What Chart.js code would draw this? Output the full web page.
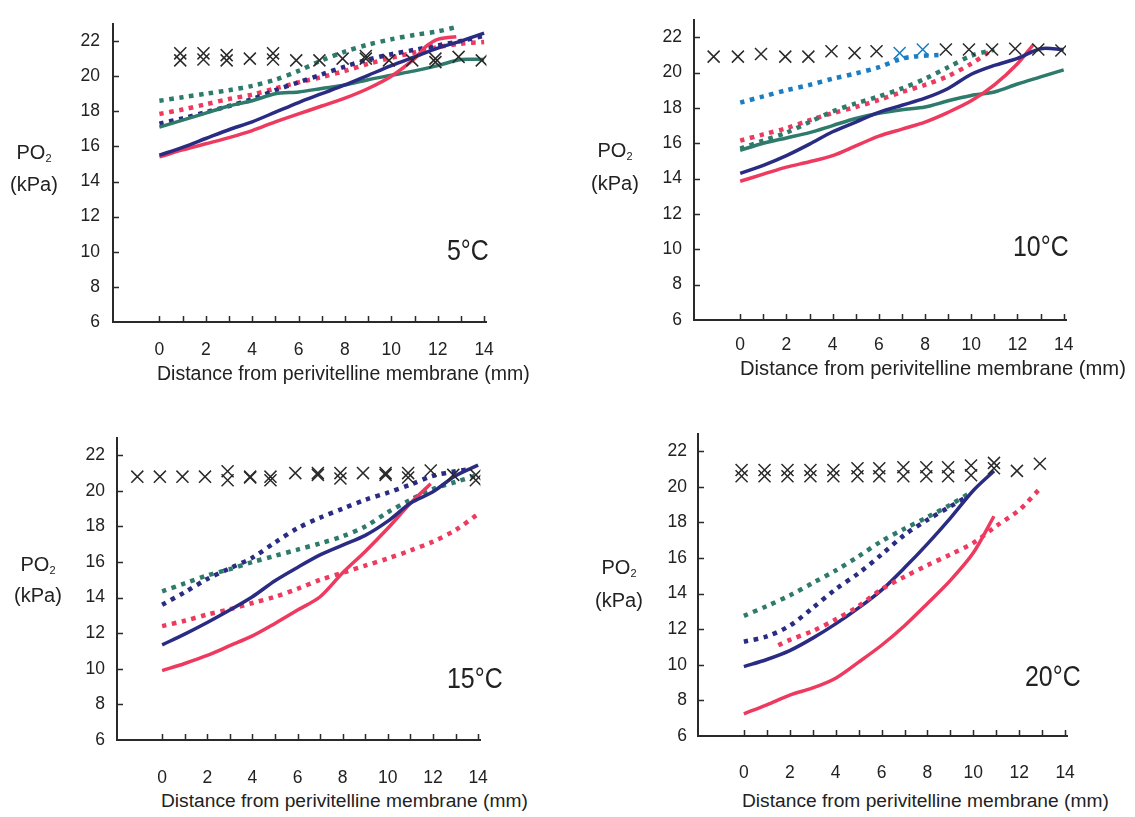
<!DOCTYPE html>
<html>
<head>
<meta charset="utf-8">
<title>PO2 across the egg</title>
<script src="https://cdn.jsdelivr.net/npm/chart.js@4.4.0/dist/chart.umd.min.js"></script>
<style>
  body { margin: 0; background: #fff; font-family: 'Liberation Sans', Arial, sans-serif; color: #222; }
  #page { position: relative; width: 1135px; height: 817px; overflow: hidden; }
  canvas { position: absolute; }
  .lbl { position: absolute; white-space: nowrap; line-height: 1; }
  .po2 { font-size: 20px; line-height: 29px; text-align: center; width: 60px; }
  .po2 .sub { font-size: 11px; position: relative; top: 3px; }
  .temp { font-size: 30px; transform: scaleX(0.83); transform-origin: left center; }
  .xtitle { font-size: 19.5px; }
</style>
</head>
<body>
<div id="page">
  <canvas id="chart5"></canvas>
  <canvas id="chart10"></canvas>
  <canvas id="chart15"></canvas>
  <canvas id="chart20"></canvas>

  <div class="lbl po2" style="left:4px; top:138px;">PO<span class="sub">2</span><br>(kPa)</div>
  <div class="lbl po2" style="left:585px; top:135px; line-height:30px;">PO<span class="sub">2</span><br>(kPa)</div>
  <div class="lbl po2" style="left:8px; top:550px; line-height:28px;">PO<span class="sub">2</span><br>(kPa)</div>
  <div class="lbl po2" style="left:589px; top:552px; line-height:30px;">PO<span class="sub">2</span><br>(kPa)</div>

  <div class="lbl temp" style="left:447px; top:235px;">5°C</div>
  <div class="lbl temp" style="left:1013px; top:231px;">10°C</div>
  <div class="lbl temp" style="left:447px; top:663px;">15°C</div>
  <div class="lbl temp" style="left:1025px; top:661px;">20°C</div>

  <div class="lbl xtitle" style="left:157px; top:364px;">Distance from perivitelline membrane (mm)</div>
  <div class="lbl xtitle" style="left:740px; top:358px; font-size:20.2px;">Distance from perivitelline membrane (mm)</div>
  <div class="lbl xtitle" style="left:161px; top:791px; font-size:19.2px;">Distance from perivitelline membrane (mm)</div>
  <div class="lbl xtitle" style="left:742px; top:791px; font-size:19.2px;">Distance from perivitelline membrane (mm)</div>
</div>

<script>
'use strict';

// AXIS LABELS
let xLabelled = [0, 2, 4, 6, 8, 10, 12, 14];
let yLabelled = [6, 8, 10, 12, 14, 16, 18, 20, 22];

// COLOURS
let red = '#ee3a5f';
let navy = '#2a2c84';
let teal = '#2e7a6b';
let sky = '#1b7ec4';
let ink = '#2a2a2a';

// DATA: [distance (mm), PO2 (kPa)]

// 5 C
let redSolid5 = [[0, 15.4], [1, 15.8], [2, 16.15], [3, 16.5], [4, 16.9], [5, 17.4], [6, 17.85], [7, 18.3], [8, 18.75], [9, 19.3], [10, 20.0], [11, 21.0], [11.5, 21.7], [12, 22.1], [12.8, 22.25]];
let navySolid5 = [[0, 15.5], [1, 15.95], [2, 16.45], [3, 16.95], [4, 17.4], [5, 17.95], [6, 18.5], [7, 19.0], [8, 19.5], [9, 20.05], [10, 20.6], [11, 21.1], [12, 21.6], [13, 22.0], [14, 22.45]];
let tealSolid5 = [[0, 17.1], [1, 17.5], [2, 17.9], [3, 18.3], [4, 18.6], [5, 19.0], [6, 19.1], [7, 19.3], [8, 19.5], [9, 19.8], [10, 20.05], [11, 20.3], [12, 20.6], [13, 20.95], [14, 20.95]];
let redDot5 = [[0, 17.85], [1, 18.1], [2, 18.4], [3, 18.7], [4, 18.95], [5, 19.3], [6, 19.65], [7, 19.95], [8, 20.3], [9, 20.7], [10, 21.05], [11, 21.35], [12, 21.65], [13, 21.85], [14, 21.95]];
let navyDot5 = [[0, 17.3], [1, 17.6], [2, 17.95], [3, 18.3], [4, 18.7], [5, 19.2], [6, 19.65], [7, 20.1], [8, 20.55], [9, 20.95], [10, 21.25], [11, 21.5], [12, 21.75], [13, 22.0], [14, 22.3]];
let tealDot5 = [[0, 18.6], [1, 18.8], [2, 19.0], [3, 19.2], [4, 19.45], [5, 19.8], [6, 20.3], [7, 20.9], [8, 21.4], [9, 21.8], [10, 22.1], [11, 22.35], [12, 22.55], [12.8, 22.8]];
let airA5 = [[0.9, 21.3], [1.9, 21.3], [2.9, 21.2], [3.9, 21.0], [4.9, 21.3], [5.9, 20.9], [6.9, 20.9], [7.9, 21.0], [8.9, 21.0], [9.9, 20.9], [10.9, 20.9], [11.9, 21.0], [12.9, 21.1], [13.9, 20.9]];
let airB5 = [[0.9, 20.9], [1.9, 20.95], [2.9, 20.9], [4.9, 20.95], [8.9, 21.15], [11.9, 20.8]];

// 10 C
let redSolid10 = [[0, 13.85], [1, 14.25], [2, 14.65], [3, 14.95], [4, 15.3], [5, 15.85], [6, 16.4], [7, 16.8], [8, 17.2], [9, 17.75], [10, 18.4], [11, 19.3], [12, 20.5], [12.7, 21.6]];
let navySolid10 = [[0, 14.3], [1, 14.75], [2, 15.3], [3, 15.95], [4, 16.65], [5, 17.2], [6, 17.75], [7, 18.15], [8, 18.55], [9, 19.1], [10, 19.9], [11, 20.4], [12, 20.8], [13, 21.35], [14, 21.3]];
let tealSolid10 = [[0, 15.6], [1, 16.0], [2, 16.3], [3, 16.6], [4, 17.0], [5, 17.4], [6, 17.7], [7, 17.9], [8, 18.05], [9, 18.4], [10, 18.7], [11, 18.9], [12, 19.35], [13, 19.75], [14, 20.15]];
let redDot10 = [[0, 16.15], [1, 16.5], [2, 16.85], [3, 17.3], [4, 17.7], [5, 18.05], [6, 18.45], [7, 18.9], [8, 19.3], [9, 19.8], [10, 20.5], [10.8, 21.2]];
let tealDot10 = [[0, 15.7], [1, 16.15], [2, 16.6], [3, 17.2], [4, 17.8], [5, 18.25], [6, 18.65], [7, 19.1], [8, 19.65], [9, 20.3], [10, 20.95], [11, 21.3]];
let skyDot10 = [[0, 18.3], [1, 18.65], [2, 19.0], [3, 19.3], [4, 19.65], [5, 19.95], [6, 20.3], [6.9, 20.75], [7.5, 20.9], [8.6, 21.0]];
let air10 = [[-1.15, 20.9], [-0.1, 20.9], [0.9, 21.05], [1.95, 20.9], [2.95, 20.9], [3.95, 21.2], [4.95, 21.1], [5.9, 21.2], [8.9, 21.3], [9.9, 21.3], [10.9, 21.3], [11.9, 21.35], [12.9, 21.3], [13.9, 21.25]];
let airSky10 = [[6.9, 21.1], [7.9, 21.3]];

// 15 C
let redSolid15 = [[0, 9.9], [1, 10.3], [2, 10.75], [3, 11.3], [4, 11.85], [5, 12.55], [6, 13.3], [7, 14.05], [8, 15.4], [9, 16.6], [10, 17.9], [11, 19.3], [11.9, 20.4]];
let navySolid15 = [[0, 11.35], [1, 11.95], [2, 12.6], [3, 13.3], [4, 14.05], [5, 14.95], [6, 15.7], [7, 16.4], [8, 16.95], [9, 17.5], [10, 18.3], [11, 19.3], [12, 19.95], [13, 20.85], [14, 21.45]];
let redDot15 = [[0, 12.4], [1, 12.7], [2, 13.05], [3, 13.35], [4, 13.7], [5, 14.05], [6, 14.5], [7, 15.0], [8, 15.4], [9, 15.8], [10, 16.2], [11, 16.65], [12, 17.15], [13, 17.8], [14, 18.7]];
let navyDot15 = [[0, 13.6], [1, 14.3], [2, 15.05], [3, 15.65], [4, 16.25], [5, 17.1], [6, 17.9], [7, 18.5], [8, 19.0], [9, 19.5], [10, 19.9], [11, 20.35], [12, 20.85], [13, 21.1], [13.5, 21.2]];
let tealDot15 = [[0, 14.35], [1, 14.8], [2, 15.25], [3, 15.6], [4, 16.0], [5, 16.35], [6, 16.7], [7, 17.05], [8, 17.45], [9, 18.0], [10, 18.8], [11, 19.5], [12, 20.1], [13, 20.5], [14, 20.9]];
let airA15 = [[-1.1, 20.8], [-0.1, 20.8], [0.9, 20.8], [1.9, 20.8], [2.9, 21.1], [3.9, 20.8], [4.8, 20.8], [5.9, 21.0], [6.9, 21.0], [7.9, 21.0], [8.9, 21.0], [9.9, 21.0], [10.9, 21.0], [11.9, 21.15], [12.9, 20.9], [13.9, 20.9]];
let airB15 = [[2.9, 20.6], [3.9, 20.75], [4.8, 20.6], [6.9, 20.9], [7.9, 20.7], [9.9, 20.9], [10.9, 20.75], [13.9, 20.6]];

// 20 C
let redSolid20 = [[0, 7.25], [1, 7.75], [2, 8.3], [3, 8.7], [4, 9.25], [5, 10.15], [6, 11.1], [7, 12.2], [8, 13.45], [9, 14.75], [10, 16.3], [10.9, 18.35]];
let navySolid20 = [[0, 9.9], [1, 10.3], [2, 10.8], [3, 11.5], [4, 12.3], [5, 13.2], [6, 14.2], [7, 15.45], [8, 16.8], [9, 18.25], [10, 19.8], [10.9, 20.9]];
let redDot20 = [[1.5, 11.1], [2, 11.4], [3, 11.9], [4, 12.55], [5, 13.3], [6, 14.25], [7, 14.95], [8, 15.6], [9, 16.2], [10, 16.85], [11, 17.8], [12, 18.7], [12.9, 19.9]];
let navyDot20 = [[0, 11.3], [1, 11.6], [2, 12.2], [3, 13.2], [4, 14.25], [5, 15.15], [6, 16.2], [7, 17.3], [8, 18.15], [9, 18.9], [9.6, 19.35]];
let tealDot20 = [[0, 12.75], [1, 13.3], [2, 13.9], [3, 14.6], [4, 15.3], [5, 16.1], [6, 16.95], [7, 17.65], [8, 18.3], [9, 19.0], [9.9, 19.7]];
let airA20 = [[-0.1, 20.95], [0.9, 20.95], [1.9, 20.95], [2.9, 20.95], [3.9, 20.95], [4.95, 21.05], [5.9, 21.05], [6.95, 21.1], [7.95, 21.1], [8.9, 21.1], [9.9, 21.2], [10.9, 21.35], [11.9, 20.9], [12.9, 21.3]];
let airB20 = [[-0.1, 20.6], [0.9, 20.6], [1.9, 20.6], [2.9, 20.6], [3.9, 20.6], [4.95, 20.6], [5.9, 20.6], [6.95, 20.6], [7.95, 20.6], [8.9, 20.6], [9.9, 20.65], [10.9, 21.05]];

// DATASET HELPERS
function toPoints(pairs) {
  return pairs.map(p => ({ x: p[0], y: p[1] }));
}

function solid(pairs, color) {
  return {
    data: toPoints(pairs),
    borderColor: color,
    borderWidth: 3.5,
    pointRadius: 0,
    tension: 0.3,
  };
}

function dotted(pairs, color) {
  return {
    data: toPoints(pairs),
    borderColor: color,
    borderWidth: 4.5,
    borderDash: [4.5, 5.5],
    borderCapStyle: 'butt',
    pointRadius: 0,
    tension: 0.3,
  };
}

function crosses(pairs, color) {
  return {
    data: toPoints(pairs),
    showLine: false,
    pointStyle: 'crossRot',
    pointRadius: 8.5,
    pointBorderColor: color,
    pointBorderWidth: 1.5,
  };
}

// small tick marks that point into the plot area
let innerTicks = {
  id: 'innerTicks',
  beforeDatasetsDraw(chart) {
    let ctx = chart.ctx;
    let area = chart.chartArea;
    let xScale = chart.scales.x;
    let yScale = chart.scales.y;
    ctx.save();
    ctx.strokeStyle = ink;
    ctx.lineWidth = 1.5;
    ctx.beginPath();
    xScale.ticks.forEach(t => {
      if (t.value < 0) return;
      let px = Math.round(xScale.getPixelForValue(t.value)) + 0.5;
      ctx.moveTo(px, area.bottom);
      ctx.lineTo(px, area.bottom - 6);
    });
    yScale.ticks.forEach(t => {
      if (t.value <= yScale.min) return;
      let py = Math.round(yScale.getPixelForValue(t.value)) + 0.5;
      ctx.moveTo(area.left, py);
      ctx.lineTo(area.left + 6, py);
    });
    ctx.stroke();
    ctx.restore();
  },
};

// PANELS: plot box on the page [left, top, right, bottom]
let panels = [
  {
    id: 'chart5', box: [113, 15, 487, 322], xGap: 18, yGap: 13,
    datasets: [crosses(airA5, ink), crosses(airB5, ink), solid(navySolid5, navy), solid(redSolid5, red), solid(tealSolid5, teal),
      dotted(tealDot5, teal), dotted(navyDot5, navy), dotted(redDot5, red)],
  },
  {
    id: 'chart10', box: [694, 12, 1066, 320], xGap: 15, yGap: 12,
    datasets: [crosses(air10, ink), crosses(airSky10, sky), solid(navySolid10, navy), solid(redSolid10, red), solid(tealSolid10, teal),
      dotted(skyDot10, sky), dotted(tealDot10, teal), dotted(redDot10, red)],
  },
  {
    id: 'chart15', box: [117, 430, 491, 740], xGap: 28, yGap: 12,
    datasets: [crosses(airA15, ink), crosses(airB15, ink), solid(navySolid15, navy), solid(redSolid15, red),
      dotted(navyDot15, navy), dotted(tealDot15, teal), dotted(redDot15, red)],
  },
  {
    id: 'chart20', box: [698, 427, 1077, 736], xGap: 27, yGap: 11,
    datasets: [crosses(airA20, ink), crosses(airB20, ink), dotted(redDot20, red), solid(navySolid20, navy), solid(redSolid20, red),
      dotted(navyDot20, navy), dotted(tealDot20, teal)],
  },
];

let Y_BAND = 60;
let X_BAND = 50;
let PAD_TOP = 15;
let PAD_RIGHT = 25;
let tickFont = { family: "'Liberation Sans', Arial, sans-serif", size: 17.5 };

function renderPanel(panel) {
  let canvasElem = document.getElementById(panel.id);
  let [left, top, right, bottom] = panel.box;
  canvasElem.width = right - left + Y_BAND + PAD_RIGHT;
  canvasElem.height = bottom - top + PAD_TOP + X_BAND;
  canvasElem.style.left = (left - Y_BAND) + 'px';
  canvasElem.style.top = (top - PAD_TOP) + 'px';

  new Chart(canvasElem.getContext('2d'), {
    type: 'line',
    data: { datasets: panel.datasets },
    options: {
      responsive: false,
      animation: false,
      events: [],
      layout: { padding: { left: 0, top: PAD_TOP, right: PAD_RIGHT, bottom: 0 } },
      plugins: { legend: { display: false }, tooltip: { enabled: false } },
      scales: {
        x: {
          type: 'linear',
          min: -2,
          max: 14.1,
          afterFit: s => { s.height = X_BAND; },
          grid: { drawOnChartArea: false, drawTicks: false },
          border: { color: ink, width: 2 },
          ticks: {
            stepSize: 1,
            includeBounds: false,
            autoSkip: false,
            maxRotation: 0,
            padding: panel.xGap,
            color: '#222',
            font: tickFont,
            callback: v => (xLabelled.includes(v) ? v : ''),
          },
        },
        y: {
          type: 'linear',
          min: 6,
          max: 23,
          afterFit: s => { s.width = Y_BAND; },
          grid: { drawOnChartArea: false, drawTicks: false },
          border: { color: ink, width: 2 },
          ticks: {
            stepSize: 2,
            includeBounds: false,
            padding: panel.yGap,
            color: '#222',
            font: tickFont,
            callback: v => (yLabelled.includes(v) ? v : ''),
          },
        },
      },
    },
    plugins: [innerTicks],
  });
}

panels.forEach(renderPanel);
</script>
</body>
</html>
